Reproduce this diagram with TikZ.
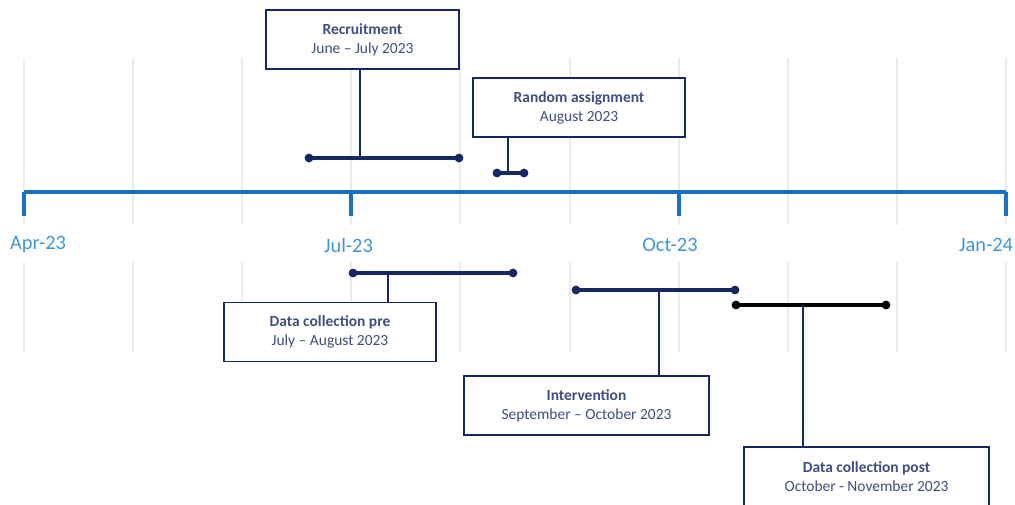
\documentclass[tikz,border=0pt]{standalone}
\usepackage{fontspec}
\setmainfont{Carlito}
\usetikzlibrary{positioning}

\definecolor{navy}{RGB}{22,40,100}
\definecolor{boxtext}{RGB}{62,78,128}
\definecolor{axisblue}{RGB}{24,112,196}
\definecolor{labelblue}{RGB}{62,150,214}
\definecolor{gridgray}{RGB}{236,236,236}

\tikzset{
  evbox/.style  = {draw=navy, line width=1.1pt, fill=white, align=center,
                   text=boxtext, font=\fontsize{11}{13.5}\selectfont,
                   minimum height=1.475cm, inner sep=0pt},
  span/.style   = {navy, line width=2.2pt},
  stem/.style   = {navy, line width=1.6pt},
  dot/.style    = {circle, fill=navy, inner sep=0pt, minimum size=0.22cm},
  datelabel/.style = {text=labelblue, font=\fontsize{14.5}{16}\selectfont},
}

\begin{document}
\begin{tikzpicture}[x=0.025cm, y=-0.025cm]
  \useasboundingbox (0,0) rectangle (1015,505);
  \clip (0,0) rectangle (1015,505);

  % grid
  \foreach \i in {0,...,9}{
    \draw[gridgray, line width=1.4pt] (24+\i*109.11,58) -- (24+\i*109.11,225);
    \draw[gridgray, line width=1.4pt] (24+\i*109.11,262) -- (24+\i*109.11,352);
  }

  % time axis
  \coordinate (apr) at (24,192);
  \coordinate (jul) at (351,192);
  \coordinate (oct) at (679,192);
  \coordinate (jan) at (1006,192);
  \draw[axisblue, line width=2.2pt] (apr) -- (jan);
  \foreach \t in {apr, jul, oct, jan}
    \draw[axisblue, line width=2.2pt] (\t) -- ++(0,24);
  \node[datelabel] (lapr) at (38,245) {Apr-23};
  \node[datelabel] (ljul) at (348.5,245) {Jul-23};
  \node[datelabel] (loct) at (670,245) {Oct-23};
  \node[datelabel] (ljan) at (986,245) {Jan-24};

  % recruitment
  \node[evbox, minimum width=4.825cm] (rec) at (362.5,39.5)
    {\textbf{Recruitment}\\June -- July 2023};
  \coordinate (rec1) at (309,158);
  \coordinate (rec2) at (459,158);
  \coordinate (recf) at (360,158);
  \draw[span] (rec1) -- (rec2);
  \draw[stem] (recf) -- (recf |- rec.south);
  \node[dot] at (rec1) {};
  \node[dot] at (rec2) {};

  % random assignment
  \node[evbox, minimum width=5.3cm] (ras) at (579,107.5)
    {\textbf{Random assignment}\\August 2023};
  \coordinate (ras1) at (497,173);
  \coordinate (ras2) at (524,173);
  \coordinate (rasf) at (508,173);
  \draw[span] (ras1) -- (ras2);
  \draw[stem] (rasf) -- (rasf |- ras.south);
  \node[dot] at (ras1) {};
  \node[dot] at (ras2) {};

  % data collection pre
  \node[evbox, minimum width=5.3cm] (dcpre) at (330,332)
    {\textbf{Data collection pre}\\July -- August 2023};
  \coordinate (pre1) at (353,273);
  \coordinate (pre2) at (513,273);
  \coordinate (pref) at (388,273);
  \draw[span] (pre1) -- (pre2);
  \draw[stem] (pref) -- (pref |- dcpre.north);
  \node[dot] at (pre1) {};
  \node[dot] at (pre2) {};

  % intervention
  \node[evbox, minimum width=6.125cm] (int) at (586.5,405.5)
    {\textbf{Intervention}\\September -- October 2023};
  \coordinate (int1) at (576,290);
  \coordinate (int2) at (735,290);
  \coordinate (intf) at (659,290);
  \draw[span] (int1) -- (int2);
  \draw[stem] (intf) -- (intf |- int.north);
  \node[dot] at (int1) {};
  \node[dot] at (int2) {};

  % data collection post
  \node[evbox, minimum width=6.125cm] (dcpost) at (866.5,476.5)
    {\textbf{Data collection post}\\October - November 2023};
  \coordinate (post1) at (736,305);
  \coordinate (post2) at (886,305);
  \coordinate (postf) at (803,305);
  \draw[span, black] (post1) -- (post2);
  \draw[stem] (postf) -- (postf |- dcpost.north);
  \node[dot, fill=black] at (post1) {};
  \node[dot, fill=black] at (post2) {};
\end{tikzpicture}
\end{document}
